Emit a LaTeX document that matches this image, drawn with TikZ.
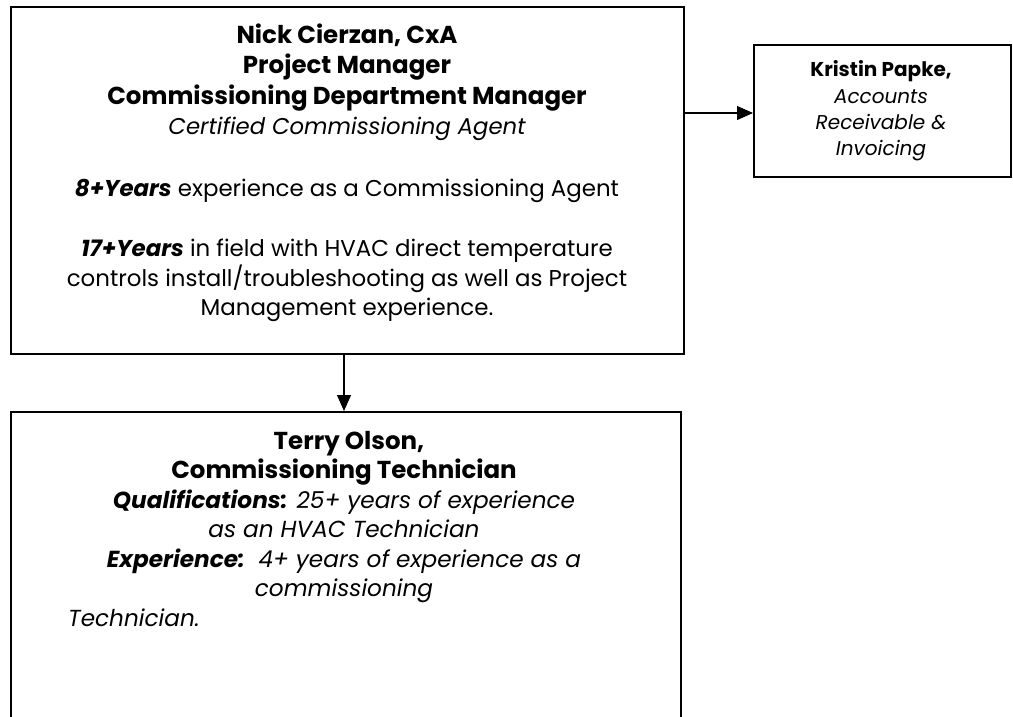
\documentclass[tikz,border=0pt]{standalone}
\usepackage{fontspec}
\setmainfont{Poppins}
\usetikzlibrary{arrows.meta}
\tikzset{
  box/.style={draw=black, line width=1.8pt, inner sep=0pt, anchor=north west},
  arr/.style={line width=1.1pt, -{Triangle[length=16pt,width=14pt]}},
  hd/.style={anchor=base, inner sep=0pt, font=\fontsize{24.5}{28}\selectfont\bfseries},
  bd/.style={anchor=base, inner sep=0pt, font=\fontsize{22.9}{27}\selectfont},
  it/.style={anchor=base, inner sep=0pt, font=\fontsize{22.8}{27}\selectfont\itshape},
  tit/.style={anchor=base, inner sep=0pt, font=\fontsize{23.2}{27}\selectfont\itshape},
  khd/.style={anchor=base, inner sep=0pt, font=\fontsize{20}{24}\selectfont\bfseries},
  kit/.style={anchor=base, inner sep=0pt, font=\fontsize{20}{24}\selectfont\itshape},
}
\begin{document}
\begin{tikzpicture}[x=1pt,y=-1pt]
\useasboundingbox (0,0) rectangle (1013,717);
% boxes
\node[box, minimum width=673pt, minimum height=347pt] (nick) at (10,6) {};
\node[box, minimum width=257pt, minimum height=132pt] (kristin) at (753,44) {};
\node[box, minimum width=670pt, minimum height=400pt] (terry) at (10,411) {};
% top box text
\node[hd] (n1) at (347,44) {Nick Cierzan, CxA};
\node[hd] (n2) at (347,74) {Project Manager};
\node[hd] (n3) at (347,104) {Commissioning Department Manager};
\node[it] (n4) at (347,135) {Certified Commissioning Agent};
\node[bd] (n5) at (347,196) {{\bfseries\itshape 8+Years} experience as a Commissioning Agent};
\node[bd] (n6) at (347,256) {{\bfseries\itshape 17+Years} in field with HVAC direct temperature};
\node[bd] (n7) at (347,286) {controls install/troubleshooting as well as Project};
\node[bd] (n8) at (347,315) {Management experience.};
% kristin text
\node[khd] (k1) at (881,77) {Kristin Papke,};
\node[kit] (k2) at (881,103) {Accounts};
\node[kit] (k3) at (881,129) {Receivable \&};
\node[kit] (k4) at (881,155) {Invoicing};
% terry text
\node[hd] (t1) at (349,449) {Terry Olson,};
\node[hd] (t2) at (344,478) {Commissioning Technician};
\node[tit] (t3) at (344,508) {{\bfseries Qualifications:} 25+ years of experience};
\node[tit] (t4) at (344,537) {as an HVAC Technician};
\node[tit] (t5) at (344,567) {{\bfseries Experience:}\ \ 4+ years of experience as a};
\node[tit] (t6) at (344,596) {commissioning};
\node[tit, anchor=base west] (t7) at (68,626) {Technician.};
% connectors
\coordinate (a1) at (700,113);
\coordinate (a2) at (344,380);
\draw[arr] (nick.east |- a1) -- (kristin.west |- a1);
\draw[arr] (nick.south -| a2) -- (terry.north -| a2);
\end{tikzpicture}
\end{document}
